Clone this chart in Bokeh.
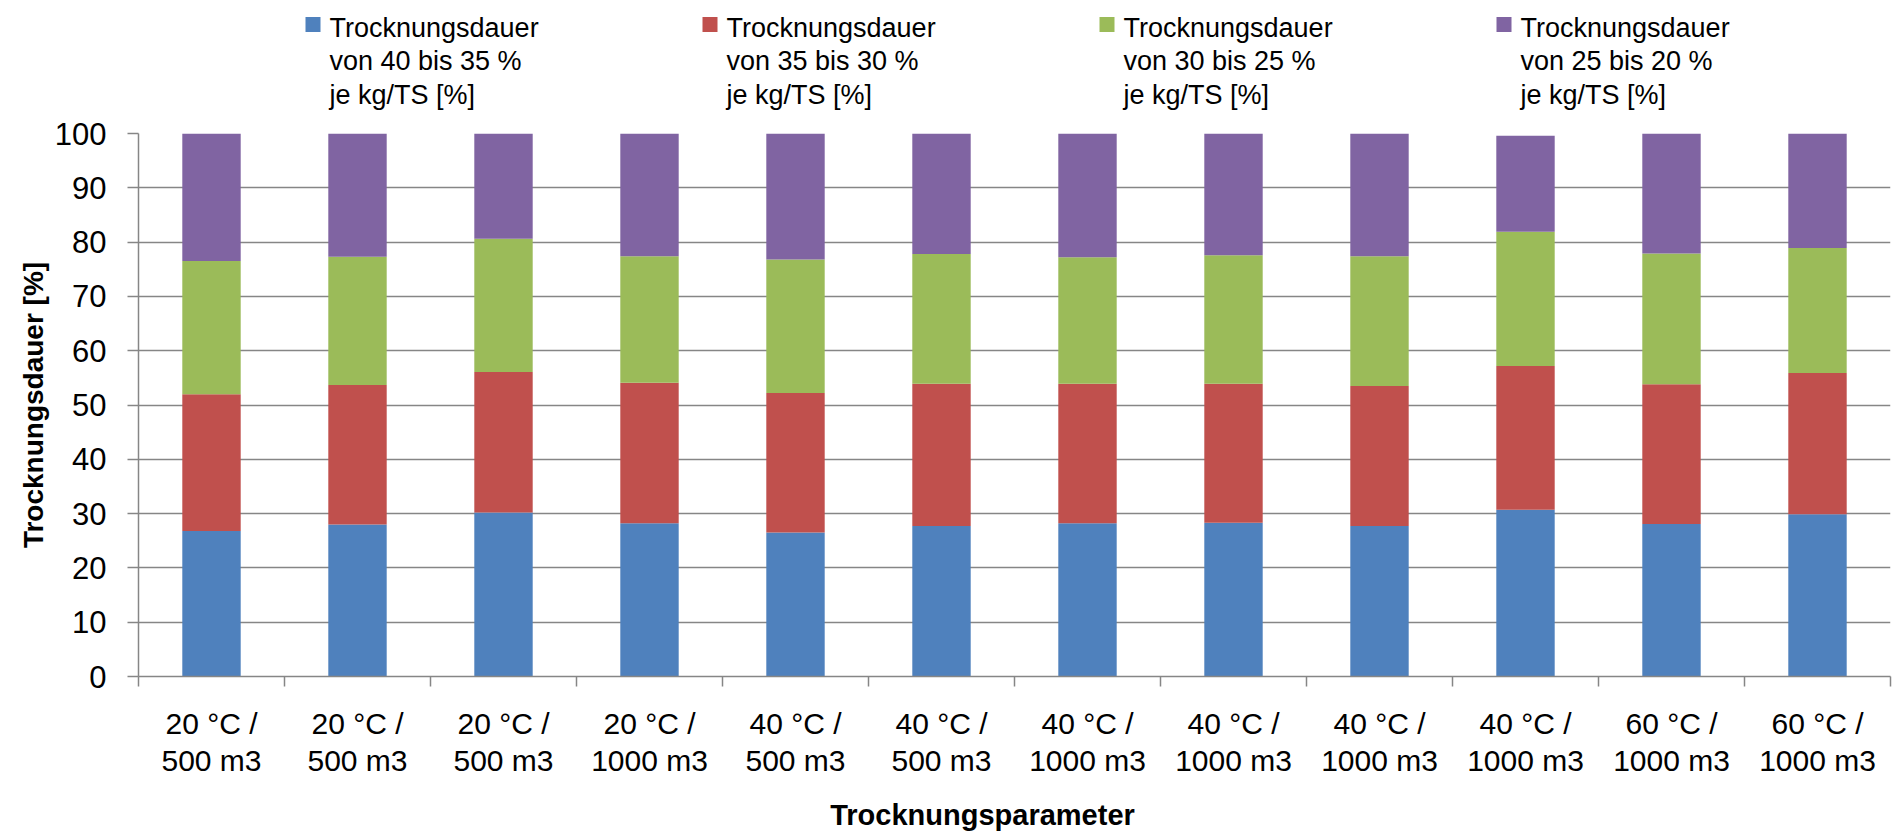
from bokeh.plotting import figure
from bokeh.layouts import column
from bokeh.models import Range1d, FixedTicker, ColumnDataSource
from bokeh.core.properties import value
from bokeh.embed import file_html
from bokeh.resources import INLINE

# Drying parameter per column (temperature / air volume)
categories = ["20 °C /\n500 m3", "20 °C /\n500 m3", "20 °C /\n500 m3",
              "20 °C /\n1000 m3", "40 °C /\n500 m3", "40 °C /\n500 m3",
              "40 °C /\n1000 m3", "40 °C /\n1000 m3", "40 °C /\n1000 m3",
              "40 °C /\n1000 m3", "60 °C /\n1000 m3", "60 °C /\n1000 m3"]

# Share of total drying time per moisture interval [%]
dauer_40_35 = [26.8, 28.0, 30.2, 28.2, 26.5, 27.7, 28.2, 28.3, 27.7, 30.7, 28.1, 29.9]
dauer_35_30 = [25.2, 25.7, 25.9, 25.9, 25.7, 26.2, 25.7, 25.6, 25.8, 26.5, 25.7, 26.0]
dauer_30_25 = [24.5, 23.6, 24.5, 23.3, 24.6, 23.9, 23.3, 23.7, 23.9, 24.7, 24.1, 23.0]
dauer_25_20 = [23.5, 22.7, 19.4, 22.6, 23.2, 22.2, 22.8, 22.4, 22.6, 17.7, 22.1, 21.1]

series_labels = ["Trocknungsdauer\nvon 40 bis 35 %\nje kg/TS [%]",
                 "Trocknungsdauer\nvon 35 bis 30 %\n je kg/TS  [%]",
                 "Trocknungsdauer\nvon 30 bis 25 %\nje kg/TS  [%]",
                 "Trocknungsdauer\nvon 25 bis 20 %\nje kg/TS  [%]"]
colors = ["#4F81BD", "#C0504D", "#9BBB59", "#8064A2"]
y_ticks = list(range(0, 101, 10))
x_title = "Trocknungsparameter"
y_title = "Trocknungsdauer [%]"

GRID = "#868686"
FONT = "Liberation Sans"
W = 1894
FRAME_L, FRAME_R = 138, 4          # frame borders shared by all strips
LEG_H = 118                         # legend strip
TITLE_H = 40                        # x-axis title strip
MAIN_H = 832 - LEG_H - TITLE_H
MAIN_TOP = 15
FRAME_H = 543


def strip(height):
    """Blank strip in page-pixel coordinates (y pointing down)."""
    f = figure(width=W, height=height, output_backend="svg",
               toolbar_location=None,
               x_range=Range1d(FRAME_L, W - FRAME_R), y_range=Range1d(height, 0),
               x_axis_location=None, y_axis_location=None,
               min_border_left=FRAME_L, min_border_right=FRAME_R,
               min_border_top=0, min_border_bottom=0)
    f.outline_line_color = None
    f.xgrid.visible = False
    f.ygrid.visible = False
    return f


# ---------------- legend strip ----------------------------------------------
leg = strip(LEG_H)
sw_left, sw_step, sw_size = 305, 397, 15
sw_x = [sw_left + i * sw_step + sw_size / 2 for i in range(len(colors))]
leg.rect(x=sw_x, y=[24] * len(colors), width=sw_size, height=sw_size,
         color=colors, line_color=None)
leg.text(x=[x + sw_size / 2 + 9 for x in sw_x], y=[12] * len(colors),
         text=series_labels, text_baseline="top", text_align="left",
         text_font=value(FONT), text_font_size="27px",
         text_line_height=1.12, text_color="black")

# ---------------- stacked bar chart -----------------------------------------
n = len(categories)
centers = [i + 0.5 for i in range(n)]
keys = ["d1", "d2", "d3", "d4"]
source = ColumnDataSource(dict(x=centers, d1=dauer_40_35, d2=dauer_35_30,
                               d3=dauer_30_25, d4=dauer_25_20))

p = figure(width=W, height=MAIN_H, output_backend="svg", toolbar_location=None,
           x_range=Range1d(0, n), y_range=Range1d(0, 100),
           min_border_left=FRAME_L, min_border_right=FRAME_R,
           min_border_top=MAIN_TOP, min_border_bottom=MAIN_H - MAIN_TOP - FRAME_H)
p.outline_line_color = None

p.vbar_stack(keys, x="x", width=0.4, color=colors, source=source,
             line_color=None)

# y axis
p.yaxis.ticker = FixedTicker(ticks=y_ticks)
p.yaxis.axis_line_color = GRID
p.yaxis.axis_line_width = 1.5
p.yaxis.major_tick_line_color = GRID
p.yaxis.major_tick_line_width = 1.5
p.yaxis.major_tick_out = 11
p.yaxis.major_tick_in = 0
p.yaxis.minor_tick_line_color = None
p.yaxis.major_label_text_font = FONT
p.yaxis.major_label_text_font_size = "31px"
p.yaxis.major_label_text_color = "black"
p.yaxis.major_label_standoff = 21
p.yaxis.axis_label = y_title
p.yaxis.axis_label_text_font = FONT
p.yaxis.axis_label_text_font_size = "28px"
p.yaxis.axis_label_text_font_style = "bold"
p.yaxis.axis_label_text_color = "black"
p.yaxis.axis_label_standoff = 3

# x axis: labels at bar centres, tick marks between categories
p.xaxis.ticker = FixedTicker(ticks=centers, minor_ticks=list(range(n + 1)))
p.xaxis.major_label_overrides = {c: lab for c, lab in zip(centers, categories)}
p.xaxis.axis_line_color = GRID
p.xaxis.axis_line_width = 1.5
p.xaxis.major_tick_line_color = None
p.xaxis.major_tick_out = 10
p.xaxis.major_tick_in = 0
p.xaxis.minor_tick_line_color = GRID
p.xaxis.minor_tick_line_width = 1.5
p.xaxis.minor_tick_out = 10
p.xaxis.minor_tick_in = 0
p.xaxis.major_label_text_font = FONT
p.xaxis.major_label_text_font_size = "30px"
p.xaxis.major_label_text_color = "black"
p.xaxis.major_label_text_line_height = 1.15
p.xaxis.major_label_standoff = 20

p.xgrid.visible = False
p.ygrid.ticker = FixedTicker(ticks=y_ticks)
p.ygrid.grid_line_color = GRID
p.ygrid.grid_line_width = 1.5

# ---------------- x-axis title strip ----------------------------------------
tstrip = strip(TITLE_H)
tstrip.text(x=[982], y=[22], text=[x_title], text_align="center",
            text_baseline="middle", text_font=value(FONT),
            text_font_size="29px", text_font_style="bold", text_color="black")

layout = column(leg, p, tstrip, spacing=0)
open("out.html", "w").write(file_html(layout, INLINE))
